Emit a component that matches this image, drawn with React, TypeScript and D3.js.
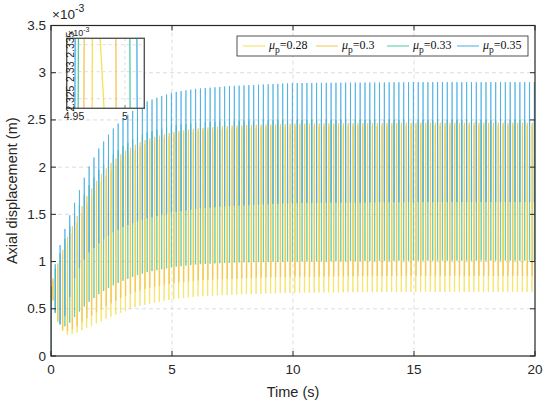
import React from 'react';
import * as d3 from 'd3';

// ---- data (values in units of 1e-3 m) ----
const envTimes = [0, 0.2, 0.45, 0.7, 1.0, 1.5, 2.0, 2.5, 3.0, 3.5, 4.0, 5.0, 6.0, 7.5, 10, 15, 20];
const yellowHigh = [0.74, 0.90, 1.05, 1.20, 1.37, 1.62, 1.82, 1.98, 2.10, 2.19, 2.26, 2.34, 2.38, 2.41, 2.43, 2.44, 2.44];
const yellowLow = [0.72, 0.40, 0.27, 0.22, 0.24, 0.30, 0.36, 0.42, 0.47, 0.52, 0.55, 0.60, 0.63, 0.65, 0.67, 0.68, 0.68];
const orangeHigh = [0.75, 0.92, 1.10, 1.27, 1.44, 1.70, 1.90, 2.05, 2.16, 2.24, 2.30, 2.37, 2.41, 2.44, 2.46, 2.47, 2.47];
const orangeLow = [0.72, 0.40, 0.28, 0.26, 0.30, 0.40, 0.48, 0.56, 0.63, 0.68, 0.72, 0.77, 0.80, 0.82, 0.84, 0.85, 0.85];
const greenHigh = [0.76, 0.95, 1.15, 1.33, 1.50, 1.78, 1.98, 2.12, 2.23, 2.31, 2.37, 2.44, 2.47, 2.49, 2.50, 2.50, 2.50];
const greenLow = [0.72, 0.42, 0.30, 0.33, 0.42, 0.56, 0.66, 0.74, 0.80, 0.85, 0.89, 0.94, 0.97, 0.99, 1.00, 1.01, 1.01];
const blueHigh = [0.78, 1.00, 1.25, 1.44, 1.64, 1.97, 2.21, 2.39, 2.52, 2.62, 2.70, 2.79, 2.83, 2.86, 2.89, 2.90, 2.90];
const blueLow = [0.72, 0.42, 0.30, 0.55, 0.85, 1.08, 1.20, 1.30, 1.37, 1.42, 1.46, 1.52, 1.56, 1.59, 1.62, 1.63, 1.63];

const seriesNames = ['0.28', '0.3', '0.33', '0.35'];
const seriesColors = ['#F4E055', '#F5C452', '#4FC8A5', '#45AEE3'];
const highs = [yellowHigh, orangeHigh, greenHigh, blueHigh];
const lows = [yellowLow, orangeLow, greenLow, blueLow];
// time of first peak of each series (s)
const seriesPhase = [0.075, 0.085, 0.175, 0.175];

const cyclePeriod = 0.2;
const startValue = 0.74;

const xTicks = [0, 5, 10, 15, 20];
const yTicks = [0, 0.5, 1, 1.5, 2, 2.5, 3, 3.5];

// inset: crossing segments near t = 5 s
const insetTimes = [
  [4.9677, 4.9681, 4.9745, 4.9810],
  [4.9596, 4.9600, 4.9910, 4.9914],
  [4.9540, 4.9544, 5.0047, 5.0051],
  [4.9508, 4.9512, 5.0116, 5.0120],
];
const insetValues = [2.318, 2.34, 2.34, 2.318];
const insetXTicks = [4.95, 5];
const insetYTicks = [2.325, 2.33, 2.335];

const W = 550, H = 408;
const M = { left: 51, right: 535, top: 25.5, bottom: 356 };
const IN = { left: 66.7, right: 144.3, top: 38.3, bottom: 108.3 };

export default function App() {
  const x = d3.scaleLinear().domain([0, 20]).range([M.left, M.right]);
  const y = d3.scaleLinear().domain([0, 3.5]).range([M.bottom, M.top]);
  const line = d3.line<[number, number]>().x(d => x(d[0])).y(d => y(d[1]));

  const paths = highs.map((hi, i) => {
    const hiS = d3.scaleLinear().domain(envTimes).range(hi);
    const loS = d3.scaleLinear().domain(envTimes).range(lows[i]);
    const parts: string[] = [line([[0, 0], [0.004, startValue]]) || ''];
    const eps = 0.008;
    for (let k = 0; ; k++) {
      const t = seriesPhase[i] + k * cyclePeriod;
      if (t > 20.05) break;
      const lo = loS(Math.min(t, 20));
      const h = hiS(Math.min(t, 20));
      parts.push(line([[t - eps, lo], [t, h], [t + eps, lo]]) || '');
    }
    return parts.join('');
  });

  const ix = d3.scaleLinear().domain([4.95, 5]).range([74, 125]);
  const iy = d3.scaleLinear().domain([2.325, 2.335]).range([98.7, 44.7]);
  const insetPaths = insetTimes.map(ts => {
    const l = d3.line<number>().x(t => ix(t)).y((_, j) => iy(insetValues[j]));
    return l(ts) || '';
  });

  const axisColor = '#262626';
  const tickFont = 'Liberation Sans, Arial, Helvetica, sans-serif';
  const legendX = [243, 316, 387, 457];

  return (
    <svg width={W} height={H} style={{ position: 'absolute', left: 0, top: 0, background: '#fff' }}>
      <defs>
        <clipPath id="plotClip">
          <rect x={M.left} y={M.top} width={M.right - M.left} height={M.bottom - M.top} />
        </clipPath>
        <clipPath id="insetClip">
          <rect x={IN.left} y={IN.top} width={IN.right - IN.left} height={IN.bottom - IN.top} />
        </clipPath>
      </defs>
      <rect x={M.left} y={M.top} width={M.right - M.left} height={M.bottom - M.top} fill="#fff" />
      {/* grid */}
      <g stroke="#d4d4d4" strokeWidth={0.8} strokeDasharray="4,3">
        {xTicks.slice(1, -1).map(t => (
          <line key={'gx' + t} x1={x(t)} x2={x(t)} y1={M.top} y2={M.bottom} />
        ))}
        {yTicks.slice(1, -1).map(t => (
          <line key={'gy' + t} x1={M.left} x2={M.right} y1={y(t)} y2={y(t)} />
        ))}
      </g>
      {/* data */}
      <g clipPath="url(#plotClip)" fill="none" strokeLinejoin="round">
        {paths.map((p, i) => (
          <path key={i} d={p} stroke={seriesColors[i]} strokeWidth={0.75} />
        ))}
      </g>
      {/* axes box */}
      <rect x={M.left} y={M.top} width={M.right - M.left} height={M.bottom - M.top}
        fill="none" stroke={axisColor} strokeWidth={1.2} />
      <g stroke={axisColor} strokeWidth={1}>
        {xTicks.map(t => (
          <g key={'tx' + t}>
            <line x1={x(t)} x2={x(t)} y1={M.bottom} y2={M.bottom - 5} />
            <line x1={x(t)} x2={x(t)} y1={M.top} y2={M.top + 5} />
          </g>
        ))}
        {yTicks.map(t => (
          <g key={'ty' + t}>
            <line x1={M.left} x2={M.left + 5} y1={y(t)} y2={y(t)} />
            <line x1={M.right} x2={M.right - 5} y1={y(t)} y2={y(t)} />
          </g>
        ))}
      </g>
      <g fontFamily={tickFont} fontSize={13.5} fill={axisColor}>
        {xTicks.map(t => (
          <text key={'lx' + t} x={x(t)} y={M.bottom + 18} textAnchor="middle">{t}</text>
        ))}
        {yTicks.map(t => (
          <text key={'ly' + t} x={M.left - 5} y={y(t) + 4.5} textAnchor="end">{t}</text>
        ))}
        <text x={52} y={19}>×10<tspan fontSize={10.5} dy={-7}>-3</tspan></text>
        <text x={(M.left + M.right) / 2} y={397} textAnchor="middle" fontSize={14.5}>Time (s)</text>
        <text transform={`translate(17,${(M.top + M.bottom) / 2}) rotate(-90)`} textAnchor="middle" fontSize={14.5}>
          Axial displacement (m)
        </text>
      </g>
      {/* legend */}
      <g>
        <rect x={237} y={36} width={291} height={20} fill="#fff" stroke={axisColor} strokeWidth={0.8} />
        {seriesNames.map((n, i) => (
          <g key={'lg' + i}>
            <line x1={legendX[i]} x2={legendX[i] + 22} y1={46} y2={46} stroke={seriesColors[i]} strokeWidth={1} />
            <text x={legendX[i] + 26} y={49} fontFamily="Liberation Serif, Times New Roman, serif" fontSize={12} fill="#111">
              <tspan fontStyle="italic">μ</tspan>
              <tspan fontSize={9.5} dy={4}>p</tspan>
              <tspan dy={-4}>{'=' + n}</tspan>
            </text>
          </g>
        ))}
      </g>
      {/* inset */}
      <g>
        <rect x={IN.left} y={IN.top} width={IN.right - IN.left} height={IN.bottom - IN.top} fill="#fff" />
        <g stroke="#d4d4d4" strokeWidth={0.8} strokeDasharray="3,3">
          <line x1={ix(5)} x2={ix(5)} y1={IN.top} y2={IN.bottom} />
          {insetYTicks.map(t => (
            <line key={'igy' + t} x1={IN.left} x2={IN.right} y1={iy(t)} y2={iy(t)} />
          ))}
        </g>
        <g clipPath="url(#insetClip)" fill="none">
          {insetPaths.map((p, i) => (
            <path key={'ip' + i} d={p} stroke={seriesColors[i]} strokeWidth={1.3} />
          ))}
        </g>
        <rect x={IN.left} y={IN.top} width={IN.right - IN.left} height={IN.bottom - IN.top}
          fill="none" stroke="#555" strokeWidth={1.4} />
        <g stroke="#555" strokeWidth={0.8}>
          {insetXTicks.map(t => (
            <line key={'itx' + t} x1={ix(t)} x2={ix(t)} y1={IN.bottom} y2={IN.bottom - 3} />
          ))}
          {insetYTicks.map(t => (
            <line key={'ity' + t} x1={IN.left} x2={IN.left + 3} y1={iy(t)} y2={iy(t)} />
          ))}
        </g>
        <g fontFamily={tickFont} fontSize={10.5} fill={axisColor}>
          {insetXTicks.map(t => (
            <text key={'ilx' + t} x={ix(t)} y={IN.bottom + 12} textAnchor="middle">{t}</text>
          ))}
          {insetYTicks.map(t => (
            <text key={'ily' + t} transform={`translate(${IN.left + 7.5},${iy(t)}) rotate(-90)`} textAnchor="middle">{t}</text>
          ))}
          <text x={68} y={36} fontSize={9}>×10<tspan fontSize={7} dy={-4}>-3</tspan></text>
        </g>
      </g>
    </svg>
  );
}
